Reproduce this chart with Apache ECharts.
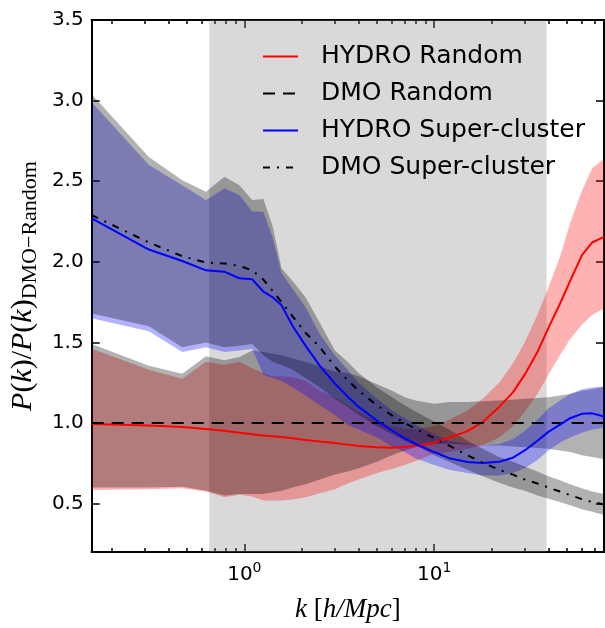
<!DOCTYPE html>
<html><head><meta charset="utf-8">
<script src="https://cdn.jsdelivr.net/npm/echarts@6/dist/echarts.min.js"></script>
<style>html,body{margin:0;padding:0;background:#fff;}#c{width:605px;height:628px;}</style>
</head><body><div id="c"></div>
<script>
// ---- data (k in h/Mpc) ----
const kValues = [0.157, 0.314, 0.471, 0.628, 0.785, 0.942, 1.1, 1.26, 1.41, 1.57, 1.8, 2.1, 2.5, 3, 3.5, 4, 5, 6, 7, 8, 10, 12, 15, 18, 22, 26, 30, 35, 40, 46, 52, 60, 68, 78.5];

const hydroRandom   = [0.994, 0.985, 0.975, 0.963, 0.952, 0.94, 0.93, 0.923, 0.918, 0.913, 0.905, 0.895, 0.885, 0.876, 0.866, 0.857, 0.85, 0.847, 0.852, 0.86, 0.878, 0.91, 0.95, 1.005, 1.10, 1.19, 1.30, 1.44, 1.59, 1.74, 1.88, 2.04, 2.12, 2.155];
const hydroRandomLo = [0.585, 0.59, 0.595, 0.575, 0.54, 0.555, 0.545, 0.52, 0.52, 0.52, 0.525, 0.54, 0.565, 0.59, 0.625, 0.65, 0.69, 0.715, 0.74, 0.765, 0.81, 0.82, 0.84, 0.86, 0.91, 0.98, 1.07, 1.18, 1.30, 1.42, 1.52, 1.61, 1.67, 1.71];
const hydroRandomHi = [1.46, 1.33, 1.275, 1.38, 1.36, 1.38, 1.34, 1.31, 1.29, 1.29, 1.285, 1.26, 1.20, 1.16, 1.11, 1.07, 1.01, 0.98, 0.965, 0.96, 0.98, 1.02, 1.08, 1.15, 1.25, 1.37, 1.50, 1.67, 1.84, 2.03, 2.24, 2.44, 2.58, 2.64];

const dmoRandom   = [1, 1, 1, 1, 1, 1, 1, 1, 1, 1, 1, 1, 1, 1, 1, 1, 1, 1, 1, 1, 1, 1, 1, 1, 1, 1, 1, 1, 1, 1, 1, 1, 1, 1];
const dmoRandomLo = [0.60, 0.60, 0.605, 0.58, 0.55, 0.56, 0.56, 0.56, 0.57, 0.58, 0.60, 0.62, 0.65, 0.68, 0.70, 0.72, 0.76, 0.80, 0.83, 0.85, 0.87, 0.87, 0.865, 0.86, 0.86, 0.855, 0.85, 0.845, 0.84, 0.83, 0.82, 0.80, 0.79, 0.775];
const dmoRandomHi = [1.49, 1.355, 1.305, 1.414, 1.39, 1.41, 1.45, 1.44, 1.43, 1.42, 1.40, 1.38, 1.35, 1.32, 1.31, 1.29, 1.24, 1.20, 1.16, 1.14, 1.12, 1.13, 1.13, 1.135, 1.14, 1.145, 1.15, 1.155, 1.16, 1.17, 1.18, 1.20, 1.21, 1.225];

const hydroSC   = [2.27, 2.076, 2.005, 1.947, 1.939, 1.898, 1.892, 1.815, 1.78, 1.73, 1.60, 1.48, 1.355, 1.245, 1.165, 1.10, 1.015, 0.953, 0.905, 0.87, 0.82, 0.782, 0.758, 0.752, 0.76, 0.785, 0.83, 0.89, 0.945, 0.99, 1.03, 1.057, 1.06, 1.04];
const hydroSCLo = [1.65, 1.57, 1.44, 1.47, 1.44, 1.45, 1.46, 1.30, 1.28, 1.26, 1.22, 1.17, 1.11, 1.05, 0.99, 0.96, 0.91, 0.855, 0.82, 0.78, 0.74, 0.71, 0.69, 0.675, 0.675, 0.69, 0.72, 0.77, 0.83, 0.88, 0.91, 0.94, 0.96, 0.97];
const hydroSCHi = [2.99, 2.60, 2.475, 2.383, 2.455, 2.414, 2.312, 2.31, 2.15, 1.93, 1.83, 1.72, 1.55, 1.42, 1.33, 1.25, 1.15, 1.08, 1.03, 0.99, 0.93, 0.89, 0.87, 0.86, 0.87, 0.90, 0.95, 1.02, 1.09, 1.14, 1.18, 1.21, 1.22, 1.226];

const dmoSC   = [2.29, 2.12, 2.035, 1.995, 1.99, 1.974, 1.947, 1.89, 1.82, 1.75, 1.66, 1.56, 1.47, 1.35, 1.267, 1.20, 1.11, 1.047, 1.0, 0.963, 0.907, 0.86, 0.80, 0.754, 0.71, 0.68, 0.65, 0.625, 0.60, 0.575, 0.553, 0.528, 0.51, 0.495];
const dmoSCLo = [1.68, 1.60, 1.47, 1.50, 1.47, 1.48, 1.49, 1.42, 1.38, 1.36, 1.33, 1.28, 1.22, 1.15, 1.10, 1.05, 0.98, 0.93, 0.89, 0.86, 0.80, 0.76, 0.71, 0.67, 0.63, 0.60, 0.58, 0.55, 0.53, 0.51, 0.49, 0.465, 0.45, 0.43];
const dmoSCHi = [3.04, 2.65, 2.506, 2.435, 2.527, 2.475, 2.383, 2.39, 2.22, 1.96, 1.88, 1.78, 1.62, 1.45, 1.38, 1.31, 1.22, 1.16, 1.11, 1.07, 1.01, 0.96, 0.89, 0.84, 0.79, 0.76, 0.73, 0.70, 0.67, 0.645, 0.62, 0.595, 0.575, 0.56];

const shadedK = [0.653, 39.1];
const xLimits = [0.157, 78.5];
const yLimits = [0.2, 3.5];
const xMajorTicks = [1, 10];
const xMinorTicks = [0.2, 0.3, 0.4, 0.5, 0.6, 0.7, 0.8, 0.9, 2, 3, 4, 5, 6, 7, 8, 9, 20, 30, 40, 50, 60, 70];
const yTicks = [0.5, 1.0, 1.5, 2.0, 2.5, 3.0, 3.5];
const seriesNames = ['HYDRO Random', 'DMO Random', 'HYDRO Super-cluster', 'DMO Super-cluster'];

// ---- chart ----
const lg = v => Math.log10(v);
const chart = echarts.init(document.getElementById('c'), null, {renderer: 'canvas'});
const SANS = 'DejaVu Sans';
const SERIF = 'Liberation Serif';

function band(name, lo, hi, color) {
  return {
    type: 'custom', name: name, xAxisIndex: 0, yAxisIndex: 0, z: 2, silent: true, clip: true,
    data: kValues.map((k, i) => [lg(k), lo[i], hi[i]]),
    encode: {x: 0, y: [1, 2]},
    renderItem: function (params, api) {
      if (params.dataIndex !== 0) return null;
      const pts = [];
      for (let i = 0; i < kValues.length; i++) pts.push(api.coord([lg(kValues[i]), hi[i]]));
      for (let i = kValues.length - 1; i >= 0; i--) pts.push(api.coord([lg(kValues[i]), lo[i]]));
      return {type: 'polygon', shape: {points: pts}, style: {fill: color}};
    }
  };
}
function line(name, vals, color, dash) {
  return {
    type: 'line', name: name, xAxisIndex: 0, yAxisIndex: 0, z: 3, silent: true,
    data: kValues.map((k, i) => [lg(k), vals[i]]),
    symbol: 'none', showSymbol: false, smooth: false,
    lineStyle: {color: color, width: 2, type: dash || 'solid', cap: 'butt'},
    itemStyle: {color: color}
  };
}
function xAxisDef(position, ticks, len, labels) {
  return {
    type: 'value', position: position, min: lg(xLimits[0]), max: lg(xLimits[1]),
    axisLine: {show: true, onZero: false, lineStyle: {color: '#000', width: 2}},
    axisTick: {show: true, inside: true, length: len, customValues: ticks.map(lg), lineStyle: {color: '#000', width: 1.5}},
    axisLabel: labels ? {
      show: true, margin: 9, customValues: ticks.map(lg),
      formatter: v => '{b|10}{s|' + Math.round(v) + '}',
      rich: {
        b: {fontSize: 20, fontFamily: SANS, color: '#000', lineHeight: 24, verticalAlign: 'bottom'},
        s: {fontSize: 14, fontFamily: SANS, color: '#000', lineHeight: 10, verticalAlign: 'top'}
      }
    } : {show: false},
    splitLine: {show: false}
  };
}
function yAxisDef(position, labels) {
  return {
    type: 'value', position: position, min: yLimits[0], max: yLimits[1],
    axisLine: {show: true, onZero: false, lineStyle: {color: '#000', width: 2}},
    axisTick: {show: true, inside: true, length: 8, customValues: yTicks, lineStyle: {color: '#000', width: 1.5}},
    axisLabel: labels ? {show: true, margin: 8, customValues: yTicks, formatter: v => v.toFixed(1),
      fontSize: 20, fontFamily: SANS, color: '#000'} : {show: false},
    splitLine: {show: false}
  };
}

const xAxes = [xAxisDef('bottom', xMajorTicks, 8, true), xAxisDef('bottom', xMinorTicks, 4, false),
               xAxisDef('top', xMajorTicks, 8, false), xAxisDef('top', xMinorTicks, 4, false)];
xAxes[0].name = '{i|k }{r|[}{i|h/Mpc}{r|]}';
xAxes[0].nameLocation = 'middle';
xAxes[0].nameGap = 44;
xAxes[0].nameTextStyle = {rich: {
  i: {fontFamily: SERIF, fontStyle: 'italic', fontSize: 27, color: '#000'},
  r: {fontFamily: SERIF, fontSize: 27, color: '#000'}
}};
const yAxes = [yAxisDef('left', true), yAxisDef('right', false)];
yAxes[0].name = '{i|P}{r|(}{i|k}{r|)/}{i|P}{r|(}{i|k}{r|)}{sub|DMO\u2212Random}';
yAxes[0].nameLocation = 'middle';
yAxes[0].nameGap = 44;
yAxes[0].nameTextStyle = {rich: {
  i: {fontFamily: SERIF, fontStyle: 'italic', fontSize: 30, color: '#000', lineHeight: 36, verticalAlign: 'middle'},
  r: {fontFamily: SERIF, fontSize: 30, color: '#000', lineHeight: 36, verticalAlign: 'middle'},
  sub: {fontFamily: SERIF, fontSize: 22, color: '#000', lineHeight: 16, verticalAlign: 'bottom'}
}};

const shade = {
  type: 'custom', name: 'shade', xAxisIndex: 0, yAxisIndex: 0, z: 1, silent: true,
  data: [[lg(shadedK[0]), lg(shadedK[1]), yLimits[0], yLimits[1]]],
  encode: {x: [0, 1], y: [2, 3]},
  renderItem: function (params, api) {
    const p0 = api.coord([api.value(0), api.value(3)]);
    const p1 = api.coord([api.value(1), api.value(2)]);
    return {type: 'rect', shape: {x: p0[0], y: p0[1], width: p1[0] - p0[0], height: p1[1] - p0[1]},
            style: {fill: 'rgba(128,128,128,0.3)'}};
  }
};

chart.setOption({
  animation: false,
  backgroundColor: '#fff',
  grid: {left: 87, right: 1, top: 20, bottom: 71, containLabel: false},
  legend: {
    data: seriesNames, orient: 'vertical', left: 257, top: 38, itemGap: 10,
    itemWidth: 35, itemHeight: 14, selectedMode: false,
    itemStyle: {color: 'transparent', borderWidth: 0, opacity: 0},
    textStyle: {fontSize: 25, fontFamily: SANS, color: '#000', lineHeight: 27, padding: [0, 0, 0, 18]}
  },
  xAxis: xAxes,
  yAxis: yAxes,
  series: [
    shade,
    band('hr band', hydroRandomLo, hydroRandomHi, 'rgba(255,0,0,0.3)'),
    band('dr band', dmoRandomLo, dmoRandomHi, 'rgba(0,0,0,0.3)'),
    band('hs band', hydroSCLo, hydroSCHi, 'rgba(0,0,255,0.3)'),
    band('ds band', dmoSCLo, dmoSCHi, 'rgba(0,0,0,0.3)'),
    line(seriesNames[0], hydroRandom, '#ff0000'),
    line(seriesNames[1], dmoRandom, '#000000', [12, 8]),
    line(seriesNames[2], hydroSC, '#0000ff'),
    line(seriesNames[3], dmoSC, '#000000', [7, 7, 2, 7])
  ]
});
</script>
</body></html>
